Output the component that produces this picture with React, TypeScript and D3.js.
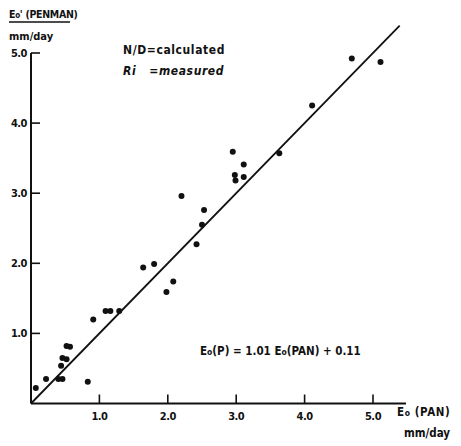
import React from "react";
import * as d3 from "d3";

const xTicks = [1, 2, 3, 4, 5];
const yTicks = [1, 2, 3, 4, 5];
const tickLabels = ["1.0", "2.0", "3.0", "4.0", "5.0"];

const panValues = [
  0.07, 0.22, 0.4, 0.46, 0.44, 0.46, 0.52, 0.52, 0.57, 0.91, 0.83, 1.09, 1.16, 1.29,
  2.2, 2.53, 2.5, 2.42, 1.64, 1.8, 2.08, 1.98,
  2.95, 3.11, 2.98, 2.99, 3.11, 3.63, 4.11, 4.69, 5.11,
];
const penmanValues = [
  0.22, 0.35, 0.35, 0.35, 0.54, 0.65, 0.63, 0.82, 0.81, 1.2, 0.31, 1.32, 1.32, 1.32,
  2.96, 2.76, 2.55, 2.27, 1.94, 1.99, 1.74, 1.59,
  3.59, 3.41, 3.26, 3.18, 3.23, 3.57, 4.25, 4.92, 4.87,
];
const lineX = [0, 5.39];
const lineY = [0, 5.39];

const FONT = "'DejaVu Sans Condensed', 'DejaVu Sans', sans-serif";

export default function App() {
  const x = d3.scaleLinear().domain([0, 5]).range([31, 373]);
  const y = d3.scaleLinear().domain([0, 5]).range([403.5, 53]);
  const points = panValues.map((v, i) => [v, penmanValues[i]]);
  const line = d3
    .line<number[]>()
    .x((d) => x(d[0]))
    .y((d) => y(d[1]));
  const linePts = lineX.map((v, i) => [v, lineY[i]]);

  return (
    <svg
      width={461}
      height={446}
      style={{ position: "absolute", left: 0, top: 0, background: "#fff" }}
      fontFamily={FONT}
      fontWeight="bold"
      fill="#111"
    >
      {/* axes */}
      <line x1={x(0)} y1={y(0)} x2={406} y2={y(0)} stroke="#111" strokeWidth={2} />
      <line x1={x(0)} y1={y(0)} x2={x(0)} y2={y(5)} stroke="#111" strokeWidth={2} />
      {xTicks.map((t, i) => (
        <g key={"xt" + i}>
          <line x1={x(t)} x2={x(t)} y1={y(0)} y2={y(0) - 9} stroke="#111" strokeWidth={1.6} />
          <text x={x(t)} y={420} fontSize={11} textAnchor="middle" letterSpacing={-0.5}>
            {tickLabels[i]}
          </text>
        </g>
      ))}
      {yTicks.map((t, i) => (
        <g key={"yt" + i}>
          <line x1={x(0)} x2={x(0) + 9} y1={y(t)} y2={y(t)} stroke="#111" strokeWidth={1.6} />
          <text x={27} y={y(t) + 4} fontSize={11} textAnchor="end" letterSpacing={-0.5}>
            {tickLabels[i]}
          </text>
        </g>
      ))}

      {/* regression line */}
      <path d={line(linePts) || ""} fill="none" stroke="#111" strokeWidth={1.8} />

      {/* points */}
      {points.map((p, i) => (
        <circle key={"p" + i} cx={x(p[0])} cy={y(p[1])} r={3} fill="#111" />
      ))}

      {/* y axis title */}
      <text x={9} y={18} fontSize={10.5} letterSpacing={-0.3}>
        E<tspan fontSize={8}>o</tspan>' (PENMAN)
      </text>
      <line x1={9} x2={70} y1={22} y2={22} stroke="#111" strokeWidth={1.3} />
      <text x={9} y={40} fontSize={11}>
        mm/day
      </text>

      {/* legend notes */}
      <text x={123} y={54} fontSize={12} letterSpacing={0.6}>
        N/D=calculated
      </text>
      <text x={123} y={75} fontSize={12} fontStyle="italic" letterSpacing={0.6}>
        Ri{"\u00A0\u00A0\u00A0"}=measured
      </text>

      {/* equation */}
      <text x={200} y={355} fontSize={11.5}>
        E<tspan fontSize={8.5}>o</tspan>(P) = 1.01 E<tspan fontSize={8.5}>o</tspan>(PAN) + 0.11
      </text>

      {/* x axis title */}
      <text x={397} y={416} fontSize={11.5} letterSpacing={0.6}>
        E<tspan fontSize={8.5}>o</tspan> (PAN)
      </text>
      <text x={404} y={437} fontSize={11.5}>
        mm/day
      </text>
    </svg>
  );
}
